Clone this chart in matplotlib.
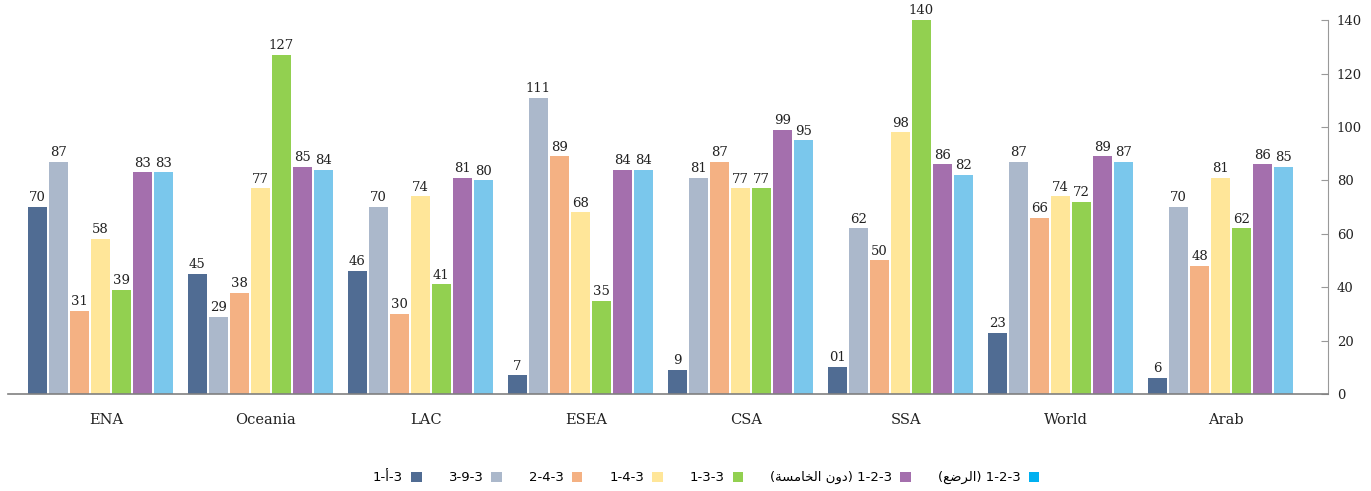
import numpy as np
import matplotlib.pyplot as plt
from matplotlib.patches import Patch

regions = ["ENA", "Oceania", "LAC", "ESEA", "CSA", "SSA", "World", "Arab"]

# Arabic legend text written in visual (left-to-right) order with presentation
# forms, since matplotlib does no Arabic shaping / bidi
series_names = [
    "1-\u0623-3",
    "3-9-3",
    "2-4-3",
    "1-4-3",
    "1-3-3",
    "(\uFE94\uFEB4\uFEE3\uFE8E\uFEA8\uFEDF\uFE8D \uFEE5\uFEED\uFEA9) 1-2-3",
    "(\uFECA\uFEBF\uFEAE\uFEDF\uFE8D) 1-2-3",
]

s_3a1 = [70, 45, 46, 7, 9, 10, 23, 6]
s_393 = [87, 29, 70, 111, 81, 62, 87, 70]
s_243 = [31, 38, 30, 89, 87, 50, 66, 48]
s_143 = [58, 77, 74, 68, 77, 98, 74, 81]
s_133 = [39, 127, 41, 35, 77, 140, 72, 62]
s_123_u5 = [83, 85, 81, 84, 99, 86, 89, 86]
s_123_inf = [83, 84, 80, 84, 95, 82, 87, 85]
series = [s_3a1, s_393, s_243, s_143, s_133, s_123_u5, s_123_inf]

colors = ["#506C93", "#ABB8CB", "#F4B183", "#FFE699", "#92D050", "#A46FAD", "#7AC7EC"]
legend_colors = colors[:-1] + ["#00B0F0"]

fig = plt.figure(figsize=(13.71, 4.91), dpi=100)
ax = fig.add_axes([0.006, 0.1976, 0.963, 0.7614])

x = np.arange(len(regions))
step = 0.131
width = 0.119
for i, (vals, c) in enumerate(zip(series, colors)):
    pos = x + (i - 3) * step
    bars = ax.bar(pos, vals, width=width, color=c, zorder=2)
    labels = [str(v) for v in vals]
    if i == 0:
        labels[5] = "01"  # shown reversed in the source
    ax.bar_label(bars, labels=labels, padding=2, fontsize=9.5,
                 family="DejaVu Serif", color="#222222")

ax.set_xlim(-0.575, 7.675)
ax.set_ylim(0, 140)
ax.set_xticks(x + 0.035)
ax.set_xticklabels(regions, family="DejaVu Serif", fontsize=10.5, color="#222222")
ax.tick_params(axis="x", length=0, pad=14)

ax.yaxis.tick_right()
ax.set_yticks(np.arange(0, 141, 20))
ax.tick_params(axis="y", direction="in", length=5, color="#999999",
               labelsize=9.5, labelcolor="#222222", pad=6)
for lbl in ax.get_yticklabels():
    lbl.set_family("DejaVu Serif")

for side in ["top", "left"]:
    ax.spines[side].set_visible(False)
ax.spines["bottom"].set_color("#808080")
ax.spines["bottom"].set_linewidth(1.2)
ax.spines["right"].set_color("#999999")

handles = [Patch(facecolor=c) for c in legend_colors]
fig.legend(handles, series_names, loc="center", bbox_to_anchor=(0.515, 0.027),
           ncol=7, frameon=False, markerfirst=False, handlelength=0.8,
           handleheight=0.8, columnspacing=2.05, handletextpad=0.6,
           prop={"family": "DejaVu Sans", "size": 9.5})

fig.savefig("out.png", dpi=100)
